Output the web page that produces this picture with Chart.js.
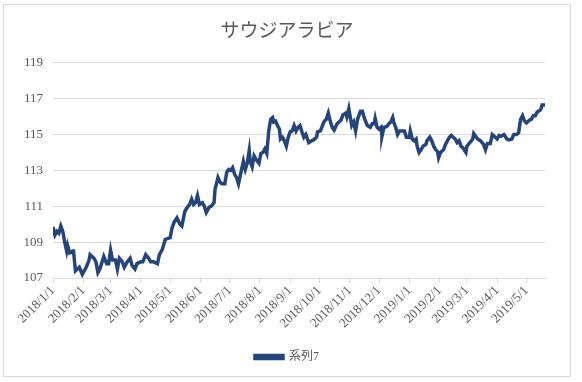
<!DOCTYPE html>
<html>
<head>
<meta charset="utf-8">
<script src="https://cdn.jsdelivr.net/npm/chart.js@4"></script>
<style>
  body { margin: 0; background: #fff; }
  #box {
    position: absolute; left: 3px; top: 4px; width: 568px; height: 373px;
    border: 1px solid #d9d9d9; box-sizing: border-box; background: #fff;
  }
</style>
</head>
<body>
<div id="box"><canvas id="chart"></canvas></div>
<script>
// series 7 values
const dates = [
  "2018/1/1","2018/1/3","2018/1/5","2018/1/7","2018/1/9","2018/1/11","2018/1/13","2018/1/15","2018/1/16","2018/1/18",
  "2018/1/21","2018/1/22","2018/1/24","2018/1/26","2018/1/28","2018/1/31","2018/2/2","2018/2/4","2018/2/7","2018/2/8",
  "2018/2/10","2018/2/12","2018/2/14","2018/2/16","2018/2/18","2018/2/22","2018/2/25","2018/2/27","2018/3/1","2018/3/3",
  "2018/3/6","2018/3/8","2018/3/10","2018/3/13","2018/3/15","2018/3/18","2018/3/21","2018/3/23","2018/3/26","2018/3/28",
  "2018/4/1","2018/4/3","2018/4/6","2018/4/9","2018/4/11","2018/4/14","2018/4/18","2018/4/20","2018/4/23","2018/4/26",
  "2018/4/28","2018/5/1","2018/5/3","2018/5/5","2018/5/8","2018/5/11","2018/5/13","2018/5/16","2018/5/18","2018/5/21",
  "2018/5/23","2018/5/25","2018/5/27","2018/5/29","2018/5/31","2018/6/3","2018/6/5","2018/6/7","2018/6/10","2018/6/12",
  "2018/6/15","2018/6/16","2018/6/19","2018/6/21","2018/6/23","2018/6/26","2018/6/28","2018/6/30","2018/7/2","2018/7/4",
  "2018/7/6","2018/7/8","2018/7/10","2018/7/13","2018/7/15","2018/7/17","2018/7/19","2018/7/21","2018/7/22","2018/7/24",
  "2018/7/26","2018/7/28","2018/7/31","2018/8/2","2018/8/4","2018/8/6","2018/8/8","2018/8/10","2018/8/12","2018/8/14",
  "2018/8/15","2018/8/17","2018/8/19","2018/8/21","2018/8/22","2018/8/24","2018/8/26","2018/8/28","2018/8/30","2018/9/1",
  "2018/9/3","2018/9/5","2018/9/7","2018/9/9","2018/9/11","2018/9/13","2018/9/15","2018/9/17","2018/9/18","2018/9/20",
  "2018/9/23","2018/9/25","2018/9/28","2018/9/29","2018/10/2","2018/10/4","2018/10/6","2018/10/8","2018/10/10","2018/10/12",
  "2018/10/14","2018/10/16","2018/10/19","2018/10/21","2018/10/23","2018/10/25","2018/10/28","2018/10/29","2018/10/31","2018/11/3",
  "2018/11/5","2018/11/7","2018/11/9","2018/11/12","2018/11/14","2018/11/16","2018/11/19","2018/11/22","2018/11/24","2018/11/26",
  "2018/11/27","2018/11/29","2018/12/1","2018/12/3","2018/12/4","2018/12/6","2018/12/9","2018/12/11","2018/12/13","2018/12/15",
  "2018/12/16","2018/12/18","2018/12/20","2018/12/22","2018/12/25","2018/12/27","2018/12/29","2019/1/1","2019/1/2","2019/1/4",
  "2019/1/6","2019/1/8","2019/1/9","2019/1/11","2019/1/13","2019/1/15","2019/1/18","2019/1/19","2019/1/22","2019/1/24",
  "2019/1/26","2019/1/28","2019/1/30","2019/1/31","2019/2/2","2019/2/5","2019/2/7","2019/2/9","2019/2/11","2019/2/13",
  "2019/2/15","2019/2/17","2019/2/19","2019/2/21","2019/2/23","2019/2/25","2019/2/28","2019/3/1","2019/3/4","2019/3/7",
  "2019/3/8","2019/3/10","2019/3/12","2019/3/15","2019/3/18","2019/3/20","2019/3/22","2019/3/25","2019/3/27","2019/3/29",
  "2019/4/1","2019/4/3","2019/4/5","2019/4/8","2019/4/11","2019/4/13","2019/4/16","2019/4/18","2019/4/21","2019/4/23",
  "2019/4/25","2019/4/27","2019/4/29","2019/5/1","2019/5/4","2019/5/6","2019/5/8","2019/5/10","2019/5/12","2019/5/15",
  "2019/5/16","2019/5/17","2019/5/20"
];
const values = [
  109.85,109.4,109.6,109.5,109.9,109.6,109.0,108.5,108.8,108.4,
  108.5,108.5,107.4,107.5,107.6,107.2,107.4,107.6,108.0,108.3,
  108.2,108.1,107.9,107.3,107.5,108.2,107.8,107.8,108.55,108.0,
  108.0,107.5,108.1,107.9,107.6,107.9,108.1,107.7,107.5,107.8,
  107.9,107.9,108.3,108.1,107.9,107.9,107.8,108.3,108.6,109.15,
  109.2,109.25,109.8,110.1,110.35,110.0,109.9,110.7,110.9,111.1,
  111.4,111.1,111.2,111.6,111.1,111.2,111.0,110.65,110.95,111.0,
  111.2,111.95,112.6,112.35,112.25,112.25,112.9,113.05,113.0,113.15,
  112.8,112.6,112.25,113.0,113.5,113.05,113.4,114.1,113.5,113.2,
  113.8,113.6,113.4,113.95,114.0,114.2,113.95,115.2,115.85,115.95,
  115.7,115.75,115.5,115.3,114.75,114.85,114.65,114.35,114.85,115.15,
  115.2,115.5,115.2,115.4,115.5,115.15,114.85,115.0,114.85,114.55,
  114.65,114.7,114.85,115.15,115.2,115.5,115.75,115.85,116.2,115.75,
  115.4,115.25,115.6,115.7,115.8,116.1,116.2,116.0,116.45,115.5,
  115.7,115.2,115.85,116.3,116.3,115.9,115.5,115.4,115.6,115.6,
  115.9,115.4,115.3,115.4,114.9,115.4,115.45,115.6,115.7,115.95,
  115.7,115.4,115.0,115.2,115.2,115.2,114.85,114.85,115.2,114.75,
  114.65,114.75,114.35,114.0,114.15,114.35,114.45,114.65,114.85,114.65,
  114.35,114.15,114.05,113.7,114.0,114.15,114.45,114.65,114.85,114.95,
  114.85,114.75,114.55,114.65,114.35,114.25,114.0,114.35,114.55,114.75,
  115.05,114.9,114.75,114.65,114.45,114.15,114.5,114.5,115.0,114.9,
  114.75,114.95,114.9,115.0,114.75,114.7,114.75,115.0,115.0,115.1,
  115.85,116.05,115.75,115.65,115.8,115.85,116.05,116.05,116.25,116.35,
  116.45,116.65,116.65
];
const monthTicks = [
  "2018/1/1","2018/2/1","2018/3/1","2018/4/1","2018/5/1","2018/6/1","2018/7/1","2018/8/1","2018/9/1",
  "2018/10/1","2018/11/1","2018/12/1","2019/1/1","2019/2/1","2019/3/1","2019/4/1","2019/5/1"
];
const yTicks = [107, 109, 111, 113, 115, 117, 119];

const DAY = 86400000;
const BASE = Date.UTC(2018, 0, 1);

function dayNum(s) {
  const [y, m, d] = s.split("/").map(Number);
  return (Date.UTC(y, m - 1, d) - BASE) / DAY;
}
function dayLabel(v) {
  const dt = new Date(BASE + v * DAY);
  return dt.getUTCFullYear() + "/" + (dt.getUTCMonth() + 1) + "/" + dt.getUTCDate();
}

const points = dates.map((d, i) => ({ x: dayNum(d), y: values[i] }));
const serif = "'Liberation Serif', 'Noto Sans CJK JP', serif";

new Chart(document.getElementById("chart"), {
  type: "line",
  data: {
    datasets: [
      {
        label: "系列7",
        data: points,
        borderColor: "#264478",
        backgroundColor: "#264478",
        borderWidth: 3.5,
        pointRadius: 0,
        tension: 0,
      },
    ],
  },
  options: {
    responsive: true,
    maintainAspectRatio: false,
    animation: false,
    layout: { padding: { left: 0, right: 0, top: 0, bottom: 3 } },
    scales: {
      x: {
        type: "linear",
        min: dayNum(dates[0]),
        max: dayNum(dates[dates.length - 1]),
        afterBuildTicks: (scale) => {
          scale.ticks = monthTicks.map((t) => ({ value: dayNum(t) }));
        },
        afterFit: (scale) => {
          scale.height = 61;
        },
        ticks: {
          autoSkip: false,
          minRotation: 45,
          maxRotation: 45,
          color: "#595959",
          font: { family: serif, size: 13 },
          padding: 0,
          callback: (v) => dayLabel(v),
        },
        grid: { drawOnChartArea: false, drawTicks: true, tickLength: 5, color: "#d9d9d9" },
        border: { display: true, color: "#d9d9d9" },
      },
      y: {
        min: 107,
        max: 119,
        afterBuildTicks: (scale) => {
          scale.ticks = yTicks.map((v) => ({ value: v }));
        },
        afterFit: (scale) => {
          scale.width = 49;
        },
        ticks: {
          color: "#595959",
          font: { family: serif, size: 13 },
          padding: 10,
        },
        grid: { color: "#d9d9d9", drawTicks: false },
        border: { display: false },
      },
      // empty right-hand axis, only to keep the right margin of the plot
      right: {
        position: "right",
        display: true,
        min: 0,
        max: 1,
        afterFit: (scale) => {
          scale.width = 25;
        },
        ticks: { display: false },
        grid: { display: false, drawTicks: false },
        border: { display: false },
      },
    },
    plugins: {
      title: {
        display: true,
        text: "サウジアラビア",
        color: "#595959",
        font: { family: "'Noto Sans CJK JP', serif", size: 19, weight: "normal" },
        padding: { top: 13, bottom: 22 },
      },
      legend: {
        position: "bottom",
        labels: {
          boxWidth: 28,
          boxHeight: 3,
          color: "#595959",
          font: { family: serif, size: 12 },
          padding: 12,
        },
      },
      tooltip: { enabled: false },
    },
  },
});
</script>
</body>
</html>
